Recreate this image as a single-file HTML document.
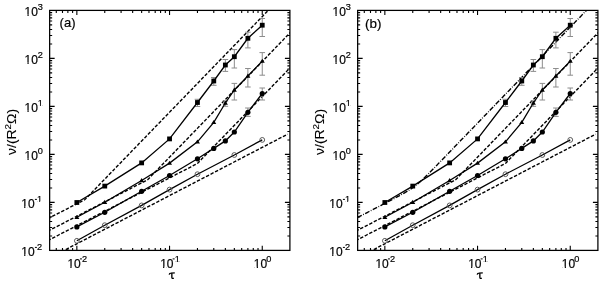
<!DOCTYPE html>
<html><head><meta charset="utf-8"><style>
html,body{margin:0;padding:0;background:#fff;width:600px;height:283px;overflow:hidden}
svg{display:block;will-change:transform;filter:blur(0.3px)}
</style></head><body>
<svg width="600" height="283" viewBox="0 0 600 283">
<rect width="600" height="283" fill="#fff"/>
<clipPath id="clipa"><rect x="49.65" y="10.4" width="240.24999999999997" height="240.0"/></clipPath>
<g clip-path="url(#clipa)" fill="none" stroke="#000" stroke-width="1.4">
<polyline points="47.65,218.81 48.65,218.30 49.65,217.78 50.65,217.27 51.65,216.75 52.65,216.24 53.65,215.72 54.65,215.21 55.65,214.69 56.65,214.18 57.65,213.66 58.65,213.15 59.65,212.63 60.65,212.12 61.65,211.60 62.65,211.09 63.65,210.57 64.65,210.06 65.65,209.54 66.65,209.03 67.65,208.51 68.65,208.00 69.65,207.48 70.65,206.97 71.65,206.45 72.65,205.94 73.65,205.42 74.65,204.91 75.65,204.39 76.65,203.88 77.65,203.36 78.65,202.85 79.65,202.33 80.65,201.82 81.65,201.30 82.65,200.79 83.65,200.27 84.65,199.76 85.65,198.81 86.65,197.78 87.65,196.75 88.65,195.71 89.65,194.68 90.65,193.65 91.65,192.62 92.65,191.59 93.65,190.55 94.65,189.52 95.65,188.49 96.65,187.46 97.65,186.43 98.65,185.39 99.65,184.36 100.65,183.33 101.65,182.30 102.65,181.27 103.65,180.23 104.65,179.20 105.65,178.17 106.65,177.14 107.65,176.11 108.65,175.07 109.65,174.04 110.65,173.01 111.65,171.98 112.65,170.95 113.65,169.91 114.65,168.88 115.65,167.85 116.65,166.82 117.65,165.79 118.65,164.75 119.65,163.72 120.65,162.69 121.65,161.66 122.65,160.63 123.65,159.59 124.65,158.56 125.65,157.53 126.65,156.50 127.65,155.47 128.65,154.43 129.65,153.40 130.65,152.37 131.65,151.34 132.65,150.31 133.65,149.27 134.65,148.24 135.65,147.21 136.65,146.18 137.65,145.15 138.65,144.11 139.65,143.08 140.65,142.05 141.65,141.02 142.65,139.99 143.65,138.95 144.65,137.92 145.65,136.89 146.65,135.86 147.65,134.83 148.65,133.79 149.65,132.76 150.65,131.73 151.65,130.70 152.65,129.67 153.65,128.63 154.65,127.60 155.65,126.57 156.65,125.54 157.65,124.51 158.65,123.47 159.65,122.44 160.65,121.41 161.65,120.38 162.65,119.35 163.65,118.31 164.65,117.28 165.65,116.25 166.65,115.22 167.65,114.19 168.65,113.15 169.65,112.12 170.65,111.09 171.65,110.06 172.65,109.03 173.65,107.99 174.65,106.96 175.65,105.93 176.65,104.90 177.65,103.87 178.65,102.83 179.65,101.80 180.65,100.77 181.65,99.74 182.65,98.71 183.65,97.67 184.65,96.64 185.65,95.61 186.65,94.58 187.65,93.55 188.65,92.51 189.65,91.48 190.65,90.45 191.65,89.42 192.65,88.39 193.65,87.35 194.65,86.32 195.65,85.29 196.65,84.26 197.65,83.23 198.65,82.19 199.65,81.16 200.65,80.13 201.65,79.10 202.65,78.07 203.65,77.03 204.65,76.00 205.65,74.97 206.65,73.94 207.65,72.91 208.65,71.87 209.65,70.84 210.65,69.81 211.65,68.78 212.65,67.75 213.65,66.71 214.65,65.68 215.65,64.65 216.65,63.62 217.65,62.59 218.65,61.55 219.65,60.52 220.65,59.49 221.65,58.46 222.65,57.43 223.65,56.39 224.65,55.36 225.65,54.33 226.65,53.30 227.65,52.27 228.65,51.23 229.65,50.20 230.65,49.17 231.65,48.14 232.65,47.11 233.65,46.07 234.65,45.04 235.65,44.01 236.65,42.98 237.65,41.95 238.65,40.91 239.65,39.88 240.65,38.85 241.65,37.82 242.65,36.79 243.65,35.75 244.65,34.72 245.65,33.69 246.65,32.66 247.65,31.63 248.65,30.59 249.65,29.56 250.65,28.53 251.65,27.50 252.65,26.47 253.65,25.43 254.65,24.40 255.65,23.37 256.65,22.34 257.65,21.31 258.65,20.27 259.65,19.24 260.65,18.21 261.65,17.18 262.65,16.15 263.65,15.11 264.65,14.08 265.65,13.05 266.65,12.02 267.65,10.99 268.65,9.95 269.65,8.92 270.65,7.89 271.65,6.86 272.65,5.83 273.65,4.79 274.65,3.76 275.65,2.73 276.65,1.70 277.65,0.67 278.65,-0.37 279.65,-1.40 280.65,-2.43 281.65,-3.46 282.65,-4.49 283.65,-5.53 284.65,-6.56 285.65,-7.59 286.65,-8.62 287.65,-9.65 288.65,-10.69 289.65,-11.72 290.65,-12.75 291.65,-13.78" stroke-dasharray="3.4 1.7"/>
<polyline points="47.65,231.26 48.65,230.75 49.65,230.23 50.65,229.72 51.65,229.20 52.65,228.69 53.65,228.17 54.65,227.66 55.65,227.14 56.65,226.63 57.65,226.11 58.65,225.60 59.65,225.08 60.65,224.57 61.65,224.05 62.65,223.54 63.65,223.02 64.65,222.51 65.65,221.99 66.65,221.48 67.65,220.96 68.65,220.45 69.65,219.93 70.65,219.42 71.65,218.90 72.65,218.39 73.65,217.87 74.65,217.36 75.65,216.84 76.65,216.33 77.65,215.81 78.65,215.30 79.65,214.78 80.65,214.27 81.65,213.75 82.65,213.24 83.65,212.72 84.65,212.21 85.65,211.69 86.65,211.18 87.65,210.66 88.65,210.15 89.65,209.63 90.65,209.12 91.65,208.60 92.65,208.09 93.65,207.57 94.65,207.06 95.65,206.54 96.65,206.03 97.65,205.51 98.65,205.00 99.65,204.48 100.65,203.97 101.65,203.45 102.65,202.94 103.65,202.42 104.65,201.91 105.65,201.39 106.65,200.88 107.65,200.36 108.65,199.85 109.65,199.33 110.65,198.82 111.65,198.30 112.65,197.79 113.65,197.27 114.65,196.76 115.65,196.24 116.65,195.73 117.65,195.21 118.65,194.70 119.65,194.18 120.65,193.67 121.65,193.15 122.65,192.64 123.65,192.12 124.65,191.61 125.65,191.09 126.65,190.58 127.65,190.06 128.65,189.55 129.65,189.03 130.65,188.52 131.65,188.00 132.65,187.49 133.65,186.97 134.65,186.46 135.65,185.94 136.65,185.43 137.65,184.91 138.65,184.40 139.65,183.88 140.65,183.37 141.65,182.85 142.65,182.34 143.65,181.82 144.65,181.31 145.65,180.79 146.65,180.28 147.65,179.73 148.65,178.69 149.65,177.66 150.65,176.63 151.65,175.60 152.65,174.57 153.65,173.53 154.65,172.50 155.65,171.47 156.65,170.44 157.65,169.41 158.65,168.37 159.65,167.34 160.65,166.31 161.65,165.28 162.65,164.25 163.65,163.21 164.65,162.18 165.65,161.15 166.65,160.12 167.65,159.09 168.65,158.05 169.65,157.02 170.65,155.99 171.65,154.96 172.65,153.93 173.65,152.89 174.65,151.86 175.65,150.83 176.65,149.80 177.65,148.77 178.65,147.73 179.65,146.70 180.65,145.67 181.65,144.64 182.65,143.61 183.65,142.57 184.65,141.54 185.65,140.51 186.65,139.48 187.65,138.45 188.65,137.41 189.65,136.38 190.65,135.35 191.65,134.32 192.65,133.29 193.65,132.25 194.65,131.22 195.65,130.19 196.65,129.16 197.65,128.13 198.65,127.09 199.65,126.06 200.65,125.03 201.65,124.00 202.65,122.97 203.65,121.93 204.65,120.90 205.65,119.87 206.65,118.84 207.65,117.81 208.65,116.77 209.65,115.74 210.65,114.71 211.65,113.68 212.65,112.65 213.65,111.61 214.65,110.58 215.65,109.55 216.65,108.52 217.65,107.49 218.65,106.45 219.65,105.42 220.65,104.39 221.65,103.36 222.65,102.33 223.65,101.29 224.65,100.26 225.65,99.23 226.65,98.20 227.65,97.17 228.65,96.13 229.65,95.10 230.65,94.07 231.65,93.04 232.65,92.01 233.65,90.97 234.65,89.94 235.65,88.91 236.65,87.88 237.65,86.85 238.65,85.81 239.65,84.78 240.65,83.75 241.65,82.72 242.65,81.69 243.65,80.65 244.65,79.62 245.65,78.59 246.65,77.56 247.65,76.53 248.65,75.49 249.65,74.46 250.65,73.43 251.65,72.40 252.65,71.37 253.65,70.33 254.65,69.30 255.65,68.27 256.65,67.24 257.65,66.21 258.65,65.17 259.65,64.14 260.65,63.11 261.65,62.08 262.65,61.05 263.65,60.01 264.65,58.98 265.65,57.95 266.65,56.92 267.65,55.89 268.65,54.85 269.65,53.82 270.65,52.79 271.65,51.76 272.65,50.73 273.65,49.69 274.65,48.66 275.65,47.63 276.65,46.60 277.65,45.57 278.65,44.53 279.65,43.50 280.65,42.47 281.65,41.44 282.65,40.41 283.65,39.37 284.65,38.34 285.65,37.31 286.65,36.28 287.65,35.25 288.65,34.21 289.65,33.18 290.65,32.15 291.65,31.12" stroke-dasharray="3.4 1.7"/>
<polyline points="47.65,240.66 48.65,240.15 49.65,239.63 50.65,239.12 51.65,238.60 52.65,238.09 53.65,237.57 54.65,237.06 55.65,236.54 56.65,236.03 57.65,235.51 58.65,235.00 59.65,234.48 60.65,233.97 61.65,233.45 62.65,232.94 63.65,232.42 64.65,231.91 65.65,231.39 66.65,230.88 67.65,230.36 68.65,229.85 69.65,229.33 70.65,228.82 71.65,228.30 72.65,227.79 73.65,227.27 74.65,226.76 75.65,226.24 76.65,225.73 77.65,225.21 78.65,224.70 79.65,224.18 80.65,223.67 81.65,223.15 82.65,222.64 83.65,222.12 84.65,221.61 85.65,221.09 86.65,220.58 87.65,220.06 88.65,219.55 89.65,219.03 90.65,218.52 91.65,218.00 92.65,217.49 93.65,216.97 94.65,216.46 95.65,215.94 96.65,215.43 97.65,214.91 98.65,214.40 99.65,213.88 100.65,213.37 101.65,212.85 102.65,212.34 103.65,211.82 104.65,211.31 105.65,210.79 106.65,210.28 107.65,209.76 108.65,209.25 109.65,208.73 110.65,208.22 111.65,207.70 112.65,207.19 113.65,206.67 114.65,206.16 115.65,205.64 116.65,205.13 117.65,204.61 118.65,204.10 119.65,203.58 120.65,203.07 121.65,202.55 122.65,202.04 123.65,201.52 124.65,201.01 125.65,200.49 126.65,199.98 127.65,199.46 128.65,198.95 129.65,198.43 130.65,197.92 131.65,197.40 132.65,196.89 133.65,196.37 134.65,195.86 135.65,195.34 136.65,194.83 137.65,194.31 138.65,193.80 139.65,193.28 140.65,192.77 141.65,192.25 142.65,191.74 143.65,191.22 144.65,190.71 145.65,190.19 146.65,189.68 147.65,189.16 148.65,188.65 149.65,188.13 150.65,187.62 151.65,187.10 152.65,186.59 153.65,186.07 154.65,185.56 155.65,185.04 156.65,184.53 157.65,184.01 158.65,183.50 159.65,182.98 160.65,182.47 161.65,181.95 162.65,181.44 163.65,180.92 164.65,180.41 165.65,179.89 166.65,179.38 167.65,178.86 168.65,178.35 169.65,177.83 170.65,177.32 171.65,176.80 172.65,176.29 173.65,175.77 174.65,175.26 175.65,174.74 176.65,174.23 177.65,173.71 178.65,173.20 179.65,172.68 180.65,172.17 181.65,171.65 182.65,171.14 183.65,170.62 184.65,170.11 185.65,169.59 186.65,169.08 187.65,168.56 188.65,168.05 189.65,167.53 190.65,167.02 191.65,166.50 192.65,165.99 193.65,165.47 194.65,164.96 195.65,164.44 196.65,163.93 197.65,163.23 198.65,162.19 199.65,161.16 200.65,160.13 201.65,159.10 202.65,158.07 203.65,157.03 204.65,156.00 205.65,154.97 206.65,153.94 207.65,152.91 208.65,151.87 209.65,150.84 210.65,149.81 211.65,148.78 212.65,147.75 213.65,146.71 214.65,145.68 215.65,144.65 216.65,143.62 217.65,142.59 218.65,141.55 219.65,140.52 220.65,139.49 221.65,138.46 222.65,137.43 223.65,136.39 224.65,135.36 225.65,134.33 226.65,133.30 227.65,132.27 228.65,131.23 229.65,130.20 230.65,129.17 231.65,128.14 232.65,127.11 233.65,126.07 234.65,125.04 235.65,124.01 236.65,122.98 237.65,121.95 238.65,120.91 239.65,119.88 240.65,118.85 241.65,117.82 242.65,116.79 243.65,115.75 244.65,114.72 245.65,113.69 246.65,112.66 247.65,111.63 248.65,110.59 249.65,109.56 250.65,108.53 251.65,107.50 252.65,106.47 253.65,105.43 254.65,104.40 255.65,103.37 256.65,102.34 257.65,101.31 258.65,100.27 259.65,99.24 260.65,98.21 261.65,97.18 262.65,96.15 263.65,95.11 264.65,94.08 265.65,93.05 266.65,92.02 267.65,90.99 268.65,89.95 269.65,88.92 270.65,87.89 271.65,86.86 272.65,85.83 273.65,84.79 274.65,83.76 275.65,82.73 276.65,81.70 277.65,80.67 278.65,79.63 279.65,78.60 280.65,77.57 281.65,76.54 282.65,75.51 283.65,74.47 284.65,73.44 285.65,72.41 286.65,71.38 287.65,70.35 288.65,69.31 289.65,68.28 290.65,67.25 291.65,66.22" stroke-dasharray="3.4 1.7"/>
<polyline points="47.65,258.97 52.65,256.37 57.65,253.77 62.65,251.17 67.65,248.57 72.65,245.97 77.65,243.37 82.65,240.77 87.65,238.17 92.65,235.57 97.65,232.97 102.65,230.37 107.65,227.77 112.65,225.17 117.65,222.57 122.65,219.97 127.65,217.37 132.65,214.77 137.65,212.17 142.65,209.57 147.65,206.97 152.65,204.37 157.65,201.77 162.65,199.17 167.65,196.57 172.65,193.97 177.65,191.37 182.65,188.77 187.65,186.17 192.65,183.57 197.65,180.97 202.65,178.37 207.65,175.77 212.65,173.17 217.65,170.57 222.65,167.97 227.65,165.37 232.65,162.77 237.65,160.17 242.65,157.57 247.65,154.97 252.65,152.37 257.65,149.77 262.65,147.17 267.65,144.57 272.65,141.97 277.65,139.37 282.65,136.77 287.65,134.17" stroke-dasharray="3.4 1.7"/>
</g>
<g stroke="#8c8c8c" stroke-width="1" fill="none">
<path d="M197.46,99.30V106.50M194.66,99.30H200.26M194.66,106.50H200.26"/>
<path d="M213.78,77.50V85.30M210.98,77.50H216.58M210.98,85.30H216.58"/>
<path d="M225.36,59.50V71.40M222.56,59.50H228.16M222.56,71.40H228.16"/>
<path d="M234.34,49.60V68.00M231.54,49.60H237.14M231.54,68.00H237.14"/>
<path d="M247.89,32.20V47.90M245.09,32.20H250.69M245.09,47.90H250.69"/>
<path d="M262.25,18.50V36.50M259.45,18.50H265.05M259.45,36.50H265.05"/>
<path d="M225.36,101.00V106.30M222.56,101.00H228.16M222.56,106.30H228.16"/>
<path d="M234.34,83.40V100.00M231.54,83.40H237.14M231.54,100.00H237.14"/>
<path d="M247.89,68.50V87.00M245.09,68.50H250.69M245.09,87.00H250.69"/>
<path d="M262.25,52.60V75.20M259.45,52.60H265.05M259.45,75.20H265.05"/>
<path d="M247.89,108.00V116.40M245.09,108.00H250.69M245.09,116.40H250.69"/>
<path d="M262.25,88.00V100.00M259.45,88.00H265.05M259.45,100.00H265.05"/>
</g>
<g fill="none" stroke="#000" stroke-width="1.3">
<polyline points="76.85,202.50 104.76,186.10 141.64,162.90 169.55,138.90 197.46,102.50 213.78,81.00 225.36,65.00 234.34,56.70 247.89,38.30 262.25,25.20"/>
<polyline points="76.85,217.30 104.76,202.20 141.64,180.50 169.55,163.10 197.46,141.80 213.78,122.40 225.36,103.00 234.34,90.00 247.89,76.00 262.25,61.10"/>
<polyline points="76.85,226.90 104.76,212.30 141.64,191.30 169.55,175.50 197.46,158.80 213.78,148.40 225.36,140.90 234.34,132.00 247.89,112.30 262.25,93.50"/>
<polyline points="76.85,240.80 104.76,225.20 141.64,205.40 169.55,189.60 197.46,174.20 234.34,155.00 262.25,139.90"/>
</g>
<g fill="#000">
<rect x="74.45" y="200.10" width="4.8" height="4.8"/>
<rect x="102.36" y="183.70" width="4.8" height="4.8"/>
<rect x="139.24" y="160.50" width="4.8" height="4.8"/>
<rect x="167.15" y="136.50" width="4.8" height="4.8"/>
<rect x="195.06" y="100.10" width="4.8" height="4.8"/>
<rect x="211.38" y="78.60" width="4.8" height="4.8"/>
<rect x="222.96" y="62.60" width="4.8" height="4.8"/>
<rect x="231.94" y="54.30" width="4.8" height="4.8"/>
<rect x="245.49" y="35.90" width="4.8" height="4.8"/>
<rect x="259.85" y="22.80" width="4.8" height="4.8"/>
<path d="M74.35,219.00L79.35,219.00L76.85,214.90Z"/>
<path d="M102.26,203.90L107.26,203.90L104.76,199.80Z"/>
<path d="M139.14,182.20L144.14,182.20L141.64,178.10Z"/>
<path d="M167.05,164.80L172.05,164.80L169.55,160.70Z"/>
<path d="M194.96,143.50L199.96,143.50L197.46,139.40Z"/>
<path d="M211.28,124.10L216.28,124.10L213.78,120.00Z"/>
<path d="M222.86,104.70L227.86,104.70L225.36,100.60Z"/>
<path d="M231.84,91.70L236.84,91.70L234.34,87.60Z"/>
<path d="M245.39,77.70L250.39,77.70L247.89,73.60Z"/>
<path d="M259.75,62.80L264.75,62.80L262.25,58.70Z"/>
<circle cx="76.85" cy="226.90" r="2.6"/>
<circle cx="104.76" cy="212.30" r="2.6"/>
<circle cx="141.64" cy="191.30" r="2.6"/>
<circle cx="169.55" cy="175.50" r="2.6"/>
<circle cx="197.46" cy="158.80" r="2.6"/>
<circle cx="213.78" cy="148.40" r="2.6"/>
<circle cx="225.36" cy="140.90" r="2.6"/>
<circle cx="234.34" cy="132.00" r="2.6"/>
<circle cx="247.89" cy="112.30" r="2.6"/>
<circle cx="262.25" cy="93.50" r="2.6"/>
</g>
<g fill="none" stroke="#4a4a4a" stroke-width="0.9">
<circle cx="76.85" cy="240.80" r="2.4"/>
<circle cx="104.76" cy="225.20" r="2.4"/>
<circle cx="141.64" cy="205.40" r="2.4"/>
<circle cx="169.55" cy="189.60" r="2.4"/>
<circle cx="197.46" cy="174.20" r="2.4"/>
<circle cx="234.34" cy="155.00" r="2.4"/>
<circle cx="262.25" cy="139.90" r="2.4"/>
</g>
<g stroke="#000" stroke-width="1.1" fill="none">
<path d="M56.28,250.40v-2.5M56.28,10.40v2.5M62.49,250.40v-2.5M62.49,10.40v2.5M67.87,250.40v-2.5M67.87,10.40v2.5M72.61,250.40v-2.5M72.61,10.40v2.5M76.85,250.40v-4.6M76.85,10.40v4.6M104.76,250.40v-2.5M104.76,10.40v2.5M121.08,250.40v-2.5M121.08,10.40v2.5M132.66,250.40v-2.5M132.66,10.40v2.5M141.64,250.40v-2.5M141.64,10.40v2.5M148.98,250.40v-2.5M148.98,10.40v2.5M155.19,250.40v-2.5M155.19,10.40v2.5M160.57,250.40v-2.5M160.57,10.40v2.5M165.31,250.40v-2.5M165.31,10.40v2.5M169.55,250.40v-4.6M169.55,10.40v4.6M197.46,250.40v-2.5M197.46,10.40v2.5M213.78,250.40v-2.5M213.78,10.40v2.5M225.36,250.40v-2.5M225.36,10.40v2.5M234.34,250.40v-2.5M234.34,10.40v2.5M241.68,250.40v-2.5M241.68,10.40v2.5M247.89,250.40v-2.5M247.89,10.40v2.5M253.27,250.40v-2.5M253.27,10.40v2.5M258.01,250.40v-2.5M258.01,10.40v2.5M262.25,250.40v-4.6M262.25,10.40v4.6M49.65,235.95h2.5M289.90,235.95h-2.5M49.65,227.50h2.5M289.90,227.50h-2.5M49.65,221.50h2.5M289.90,221.50h-2.5M49.65,216.85h2.5M289.90,216.85h-2.5M49.65,213.05h2.5M289.90,213.05h-2.5M49.65,209.84h2.5M289.90,209.84h-2.5M49.65,207.05h2.5M289.90,207.05h-2.5M49.65,204.60h2.5M289.90,204.60h-2.5M49.65,202.40h5.0M289.90,202.40h-5.0M49.65,187.95h2.5M289.90,187.95h-2.5M49.65,179.50h2.5M289.90,179.50h-2.5M49.65,173.50h2.5M289.90,173.50h-2.5M49.65,168.85h2.5M289.90,168.85h-2.5M49.65,165.05h2.5M289.90,165.05h-2.5M49.65,161.84h2.5M289.90,161.84h-2.5M49.65,159.05h2.5M289.90,159.05h-2.5M49.65,156.60h2.5M289.90,156.60h-2.5M49.65,154.40h5.0M289.90,154.40h-5.0M49.65,139.95h2.5M289.90,139.95h-2.5M49.65,131.50h2.5M289.90,131.50h-2.5M49.65,125.50h2.5M289.90,125.50h-2.5M49.65,120.85h2.5M289.90,120.85h-2.5M49.65,117.05h2.5M289.90,117.05h-2.5M49.65,113.84h2.5M289.90,113.84h-2.5M49.65,111.05h2.5M289.90,111.05h-2.5M49.65,108.60h2.5M289.90,108.60h-2.5M49.65,106.40h5.0M289.90,106.40h-5.0M49.65,91.95h2.5M289.90,91.95h-2.5M49.65,83.50h2.5M289.90,83.50h-2.5M49.65,77.50h2.5M289.90,77.50h-2.5M49.65,72.85h2.5M289.90,72.85h-2.5M49.65,69.05h2.5M289.90,69.05h-2.5M49.65,65.84h2.5M289.90,65.84h-2.5M49.65,63.05h2.5M289.90,63.05h-2.5M49.65,60.60h2.5M289.90,60.60h-2.5M49.65,58.40h5.0M289.90,58.40h-5.0M49.65,43.95h2.5M289.90,43.95h-2.5M49.65,35.50h2.5M289.90,35.50h-2.5M49.65,29.50h2.5M289.90,29.50h-2.5M49.65,24.85h2.5M289.90,24.85h-2.5M49.65,21.05h2.5M289.90,21.05h-2.5M49.65,17.84h2.5M289.90,17.84h-2.5M49.65,15.05h2.5M289.90,15.05h-2.5M49.65,12.60h2.5M289.90,12.60h-2.5"/>
</g>
<rect x="49.65" y="10.4" width="240.24999999999997" height="240.0" fill="none" stroke="#000" stroke-width="1.25"/>
<g font-family="'Liberation Sans', sans-serif" fill="#000" stroke="#000" stroke-width="0.2">
<text x="24.56" y="15.60" font-size="12">10</text>
<path d="M25.04,14.58H27.48V16.90H25.04ZM28.66,14.58H31.10V16.90H28.66Z" fill="#fff" stroke="none"/>
<text x="37.70" y="9.50" font-size="9.2">3</text>
<text x="24.56" y="63.60" font-size="12">10</text>
<path d="M25.04,62.58H27.48V64.90H25.04ZM28.66,62.58H31.10V64.90H28.66Z" fill="#fff" stroke="none"/>
<text x="37.70" y="57.50" font-size="9.2">2</text>
<text x="24.56" y="111.60" font-size="12">10</text>
<path d="M25.04,110.58H27.48V112.90H25.04ZM28.66,110.58H31.10V112.90H28.66Z" fill="#fff" stroke="none"/>
<text x="37.70" y="105.50" font-size="9.2">1</text>
<path d="M38.07,104.72H39.94V106.80H38.07ZM40.85,104.72H42.71V106.80H40.85Z" fill="#fff" stroke="none"/>
<text x="24.56" y="159.60" font-size="12">10</text>
<path d="M25.04,158.58H27.48V160.90H25.04ZM28.66,158.58H31.10V160.90H28.66Z" fill="#fff" stroke="none"/>
<text x="37.70" y="153.50" font-size="9.2">0</text>
<text x="21.26" y="207.60" font-size="12">10</text>
<path d="M21.74,206.58H24.18V208.90H21.74ZM25.36,206.58H27.80V208.90H25.36Z" fill="#fff" stroke="none"/>
<rect x="34.90" y="198.90" width="2.0" height="1.0" stroke="none"/>
<text x="37.00" y="201.90" font-size="9.2">1</text>
<path d="M37.37,201.12H39.24V203.20H37.37ZM40.15,201.12H42.01V203.20H40.15Z" fill="#fff" stroke="none"/>
<text x="21.26" y="255.60" font-size="12">10</text>
<path d="M21.74,254.58H24.18V256.90H21.74ZM25.36,254.58H27.80V256.90H25.36Z" fill="#fff" stroke="none"/>
<rect x="34.90" y="246.90" width="2.0" height="1.0" stroke="none"/>
<text x="37.00" y="249.90" font-size="9.2">2</text>
<text x="67.45" y="267.70" font-size="12">10</text>
<path d="M67.93,266.68H70.37V269.00H67.93ZM71.55,266.68H73.99V269.00H71.55Z" fill="#fff" stroke="none"/>
<rect x="79.95" y="258.40" width="2.0" height="1.0" stroke="none"/>
<text x="82.05" y="262.00" font-size="9.2">2</text>
<text x="160.15" y="267.70" font-size="12">10</text>
<path d="M160.63,266.68H163.07V269.00H160.63ZM164.25,266.68H166.69V269.00H164.25Z" fill="#fff" stroke="none"/>
<rect x="172.65" y="258.40" width="2.0" height="1.0" stroke="none"/>
<text x="174.75" y="262.00" font-size="9.2">1</text>
<path d="M175.12,261.22H176.99V263.30H175.12ZM177.90,261.22H179.76V263.30H177.90Z" fill="#fff" stroke="none"/>
<text x="253.85" y="267.70" font-size="12">10</text>
<path d="M254.33,266.68H256.77V269.00H254.33ZM257.95,266.68H260.39V269.00H257.95Z" fill="#fff" stroke="none"/>
<text x="266.25" y="261.60" font-size="9.2">0</text>
<path transform="translate(0.00,0)" d="M169.2,274.7 C169.4,273.5 170,273.1 171,273.1 L174.8,272.8 M171.85,273.1 L171.85,277.2 C171.85,278.4 172.4,278.7 173.8,278.2" fill="none" stroke="#000" stroke-width="1.35"/>
<text transform="translate(15.70,131.9) rotate(-90) scale(1.09,1)" font-size="12.8" text-anchor="middle" stroke-width="0.1">ν/(R<tspan dy="-4.6" font-size="9">2</tspan><tspan dy="4.6">Ω)</tspan></text>
<text x="59.60" y="27" font-size="13">(a)</text>
</g>
<clipPath id="clipb"><rect x="357.65" y="10.4" width="240.24999999999997" height="240.0"/></clipPath>
<g clip-path="url(#clipb)" fill="none" stroke="#000" stroke-width="1.4">
<polyline points="355.65,218.48 356.65,217.96 357.65,217.44 358.65,216.92 359.65,216.41 360.65,215.89 361.65,215.37 362.65,214.85 363.65,214.33 364.65,213.82 365.65,213.30 366.65,212.78 367.65,212.26 368.65,211.75 369.65,211.23 370.65,210.71 371.65,210.19 372.65,209.67 373.65,209.16 374.65,208.64 375.65,208.12 376.65,207.60 377.65,207.08 378.65,206.57 379.65,206.05 380.65,205.53 381.65,205.01 382.65,204.49 383.65,203.97 384.65,203.45 385.65,202.94 386.65,202.42 387.65,201.90 388.65,201.38 389.65,200.86 390.65,200.33 391.65,199.81 392.65,199.29 393.65,198.76 394.65,198.24 395.65,197.71 396.65,197.18 397.65,196.65 398.65,196.12 399.65,195.58 400.65,195.03 401.65,194.49 402.65,193.93 403.65,193.37 404.65,192.80 405.65,192.22 406.65,191.63 407.65,191.03 408.65,190.41 409.65,189.77 410.65,189.11 411.65,188.44 412.65,187.74 413.65,187.01 414.65,186.26 415.65,185.49 416.65,184.69 417.65,183.86 418.65,183.01 419.65,182.14 420.65,181.24 421.65,180.33 422.65,179.40 423.65,178.45 424.65,177.49 425.65,176.52 426.65,175.54 427.65,174.55 428.65,173.55 429.65,172.55 430.65,171.54 431.65,170.52 432.65,169.51 433.65,168.49 434.65,167.46 435.65,166.44 436.65,165.41 437.65,164.38 438.65,163.35 439.65,162.32 440.65,161.29 441.65,160.26 442.65,159.23 443.65,158.19 444.65,157.16 445.65,156.13 446.65,155.09 447.65,154.06 448.65,153.02 449.65,151.99 450.65,150.95 451.65,149.92 452.65,148.89 453.65,147.85 454.65,146.82 455.65,145.78 456.65,144.75 457.65,143.71 458.65,142.68 459.65,141.64 460.65,140.61 461.65,139.57 462.65,138.54 463.65,137.50 464.65,136.47 465.65,135.43 466.65,134.40 467.65,133.36 468.65,132.33 469.65,131.29 470.65,130.26 471.65,129.22 472.65,128.19 473.65,127.15 474.65,126.12 475.65,125.08 476.65,124.05 477.65,123.01 478.65,121.98 479.65,120.94 480.65,119.91 481.65,118.87 482.65,117.84 483.65,116.80 484.65,115.77 485.65,114.73 486.65,113.70 487.65,112.66 488.65,111.63 489.65,110.59 490.65,109.56 491.65,108.52 492.65,107.49 493.65,106.45 494.65,105.42 495.65,104.38 496.65,103.35 497.65,102.31 498.65,101.28 499.65,100.24 500.65,99.21 501.65,98.17 502.65,97.14 503.65,96.10 504.65,95.07 505.65,94.03 506.65,93.00 507.65,91.96 508.65,90.93 509.65,89.89 510.65,88.86 511.65,87.82 512.65,86.79 513.65,85.75 514.65,84.72 515.65,83.68 516.65,82.65 517.65,81.61 518.65,80.58 519.65,79.54 520.65,78.51 521.65,77.47 522.65,76.44 523.65,75.40 524.65,74.37 525.65,73.33 526.65,72.30 527.65,71.26 528.65,70.23 529.65,69.19 530.65,68.16 531.65,67.12 532.65,66.09 533.65,65.05 534.65,64.02 535.65,62.98 536.65,61.95 537.65,60.91 538.65,59.88 539.65,58.84 540.65,57.81 541.65,56.77 542.65,55.74 543.65,54.70 544.65,53.67 545.65,52.63 546.65,51.60 547.65,50.56 548.65,49.53 549.65,48.49 550.65,47.46 551.65,46.42 552.65,45.39 553.65,44.35 554.65,43.32 555.65,42.28 556.65,41.25 557.65,40.21 558.65,39.18 559.65,38.14 560.65,37.11 561.65,36.07 562.65,35.04 563.65,34.00 564.65,32.97 565.65,31.93 566.65,30.90 567.65,29.86 568.65,28.83 569.65,27.79 570.65,26.76 571.65,25.72 572.65,24.69 573.65,23.65 574.65,22.62 575.65,21.58 576.65,20.55 577.65,19.51 578.65,18.48 579.65,17.44 580.65,16.41 581.65,15.37 582.65,14.34 583.65,13.30 584.65,12.27 585.65,11.23 586.65,10.20 587.65,9.16 588.65,8.13 589.65,7.09 590.65,6.06 591.65,5.02 592.65,3.99 593.65,2.95 594.65,1.92 595.65,0.88 596.65,-0.15 597.65,-1.19 598.65,-2.22 599.65,-3.26" stroke-dasharray="4.8 1.5 0.8 1.5" stroke-dashoffset="6.5"/>
<polyline points="355.65,231.26 356.65,230.75 357.65,230.23 358.65,229.72 359.65,229.20 360.65,228.69 361.65,228.17 362.65,227.66 363.65,227.14 364.65,226.63 365.65,226.11 366.65,225.60 367.65,225.08 368.65,224.57 369.65,224.05 370.65,223.54 371.65,223.02 372.65,222.51 373.65,221.99 374.65,221.48 375.65,220.96 376.65,220.45 377.65,219.93 378.65,219.42 379.65,218.90 380.65,218.39 381.65,217.87 382.65,217.36 383.65,216.84 384.65,216.33 385.65,215.81 386.65,215.30 387.65,214.78 388.65,214.27 389.65,213.75 390.65,213.24 391.65,212.72 392.65,212.21 393.65,211.69 394.65,211.18 395.65,210.66 396.65,210.15 397.65,209.63 398.65,209.12 399.65,208.60 400.65,208.09 401.65,207.57 402.65,207.06 403.65,206.54 404.65,206.03 405.65,205.51 406.65,205.00 407.65,204.48 408.65,203.97 409.65,203.45 410.65,202.94 411.65,202.42 412.65,201.91 413.65,201.39 414.65,200.88 415.65,200.36 416.65,199.85 417.65,199.33 418.65,198.82 419.65,198.30 420.65,197.79 421.65,197.27 422.65,196.76 423.65,196.24 424.65,195.73 425.65,195.21 426.65,194.70 427.65,194.18 428.65,193.67 429.65,193.15 430.65,192.64 431.65,192.12 432.65,191.61 433.65,191.09 434.65,190.58 435.65,190.06 436.65,189.55 437.65,189.03 438.65,188.52 439.65,188.00 440.65,187.49 441.65,186.97 442.65,186.46 443.65,185.94 444.65,185.43 445.65,184.91 446.65,184.40 447.65,183.88 448.65,183.37 449.65,182.85 450.65,182.34 451.65,181.82 452.65,181.31 453.65,180.79 454.65,180.28 455.65,179.73 456.65,178.69 457.65,177.66 458.65,176.63 459.65,175.60 460.65,174.57 461.65,173.53 462.65,172.50 463.65,171.47 464.65,170.44 465.65,169.41 466.65,168.37 467.65,167.34 468.65,166.31 469.65,165.28 470.65,164.25 471.65,163.21 472.65,162.18 473.65,161.15 474.65,160.12 475.65,159.09 476.65,158.05 477.65,157.02 478.65,155.99 479.65,154.96 480.65,153.93 481.65,152.89 482.65,151.86 483.65,150.83 484.65,149.80 485.65,148.77 486.65,147.73 487.65,146.70 488.65,145.67 489.65,144.64 490.65,143.61 491.65,142.57 492.65,141.54 493.65,140.51 494.65,139.48 495.65,138.45 496.65,137.41 497.65,136.38 498.65,135.35 499.65,134.32 500.65,133.29 501.65,132.25 502.65,131.22 503.65,130.19 504.65,129.16 505.65,128.13 506.65,127.09 507.65,126.06 508.65,125.03 509.65,124.00 510.65,122.97 511.65,121.93 512.65,120.90 513.65,119.87 514.65,118.84 515.65,117.81 516.65,116.77 517.65,115.74 518.65,114.71 519.65,113.68 520.65,112.65 521.65,111.61 522.65,110.58 523.65,109.55 524.65,108.52 525.65,107.49 526.65,106.45 527.65,105.42 528.65,104.39 529.65,103.36 530.65,102.33 531.65,101.29 532.65,100.26 533.65,99.23 534.65,98.20 535.65,97.17 536.65,96.13 537.65,95.10 538.65,94.07 539.65,93.04 540.65,92.01 541.65,90.97 542.65,89.94 543.65,88.91 544.65,87.88 545.65,86.85 546.65,85.81 547.65,84.78 548.65,83.75 549.65,82.72 550.65,81.69 551.65,80.65 552.65,79.62 553.65,78.59 554.65,77.56 555.65,76.53 556.65,75.49 557.65,74.46 558.65,73.43 559.65,72.40 560.65,71.37 561.65,70.33 562.65,69.30 563.65,68.27 564.65,67.24 565.65,66.21 566.65,65.17 567.65,64.14 568.65,63.11 569.65,62.08 570.65,61.05 571.65,60.01 572.65,58.98 573.65,57.95 574.65,56.92 575.65,55.89 576.65,54.85 577.65,53.82 578.65,52.79 579.65,51.76 580.65,50.73 581.65,49.69 582.65,48.66 583.65,47.63 584.65,46.60 585.65,45.57 586.65,44.53 587.65,43.50 588.65,42.47 589.65,41.44 590.65,40.41 591.65,39.37 592.65,38.34 593.65,37.31 594.65,36.28 595.65,35.25 596.65,34.21 597.65,33.18 598.65,32.15 599.65,31.12" stroke-dasharray="3.4 1.7"/>
<polyline points="355.65,240.66 356.65,240.15 357.65,239.63 358.65,239.12 359.65,238.60 360.65,238.09 361.65,237.57 362.65,237.06 363.65,236.54 364.65,236.03 365.65,235.51 366.65,235.00 367.65,234.48 368.65,233.97 369.65,233.45 370.65,232.94 371.65,232.42 372.65,231.91 373.65,231.39 374.65,230.88 375.65,230.36 376.65,229.85 377.65,229.33 378.65,228.82 379.65,228.30 380.65,227.79 381.65,227.27 382.65,226.76 383.65,226.24 384.65,225.73 385.65,225.21 386.65,224.70 387.65,224.18 388.65,223.67 389.65,223.15 390.65,222.64 391.65,222.12 392.65,221.61 393.65,221.09 394.65,220.58 395.65,220.06 396.65,219.55 397.65,219.03 398.65,218.52 399.65,218.00 400.65,217.49 401.65,216.97 402.65,216.46 403.65,215.94 404.65,215.43 405.65,214.91 406.65,214.40 407.65,213.88 408.65,213.37 409.65,212.85 410.65,212.34 411.65,211.82 412.65,211.31 413.65,210.79 414.65,210.28 415.65,209.76 416.65,209.25 417.65,208.73 418.65,208.22 419.65,207.70 420.65,207.19 421.65,206.67 422.65,206.16 423.65,205.64 424.65,205.13 425.65,204.61 426.65,204.10 427.65,203.58 428.65,203.07 429.65,202.55 430.65,202.04 431.65,201.52 432.65,201.01 433.65,200.49 434.65,199.98 435.65,199.46 436.65,198.95 437.65,198.43 438.65,197.92 439.65,197.40 440.65,196.89 441.65,196.37 442.65,195.86 443.65,195.34 444.65,194.83 445.65,194.31 446.65,193.80 447.65,193.28 448.65,192.77 449.65,192.25 450.65,191.74 451.65,191.22 452.65,190.71 453.65,190.19 454.65,189.68 455.65,189.16 456.65,188.65 457.65,188.13 458.65,187.62 459.65,187.10 460.65,186.59 461.65,186.07 462.65,185.56 463.65,185.04 464.65,184.53 465.65,184.01 466.65,183.50 467.65,182.98 468.65,182.47 469.65,181.95 470.65,181.44 471.65,180.92 472.65,180.41 473.65,179.89 474.65,179.38 475.65,178.86 476.65,178.35 477.65,177.83 478.65,177.32 479.65,176.80 480.65,176.29 481.65,175.77 482.65,175.26 483.65,174.74 484.65,174.23 485.65,173.71 486.65,173.20 487.65,172.68 488.65,172.17 489.65,171.65 490.65,171.14 491.65,170.62 492.65,170.11 493.65,169.59 494.65,169.08 495.65,168.56 496.65,168.05 497.65,167.53 498.65,167.02 499.65,166.50 500.65,165.99 501.65,165.47 502.65,164.96 503.65,164.44 504.65,163.93 505.65,163.23 506.65,162.19 507.65,161.16 508.65,160.13 509.65,159.10 510.65,158.07 511.65,157.03 512.65,156.00 513.65,154.97 514.65,153.94 515.65,152.91 516.65,151.87 517.65,150.84 518.65,149.81 519.65,148.78 520.65,147.75 521.65,146.71 522.65,145.68 523.65,144.65 524.65,143.62 525.65,142.59 526.65,141.55 527.65,140.52 528.65,139.49 529.65,138.46 530.65,137.43 531.65,136.39 532.65,135.36 533.65,134.33 534.65,133.30 535.65,132.27 536.65,131.23 537.65,130.20 538.65,129.17 539.65,128.14 540.65,127.11 541.65,126.07 542.65,125.04 543.65,124.01 544.65,122.98 545.65,121.95 546.65,120.91 547.65,119.88 548.65,118.85 549.65,117.82 550.65,116.79 551.65,115.75 552.65,114.72 553.65,113.69 554.65,112.66 555.65,111.63 556.65,110.59 557.65,109.56 558.65,108.53 559.65,107.50 560.65,106.47 561.65,105.43 562.65,104.40 563.65,103.37 564.65,102.34 565.65,101.31 566.65,100.27 567.65,99.24 568.65,98.21 569.65,97.18 570.65,96.15 571.65,95.11 572.65,94.08 573.65,93.05 574.65,92.02 575.65,90.99 576.65,89.95 577.65,88.92 578.65,87.89 579.65,86.86 580.65,85.83 581.65,84.79 582.65,83.76 583.65,82.73 584.65,81.70 585.65,80.67 586.65,79.63 587.65,78.60 588.65,77.57 589.65,76.54 590.65,75.51 591.65,74.47 592.65,73.44 593.65,72.41 594.65,71.38 595.65,70.35 596.65,69.31 597.65,68.28 598.65,67.25 599.65,66.22" stroke-dasharray="3.4 1.7"/>
<polyline points="355.65,258.97 360.65,256.37 365.65,253.77 370.65,251.17 375.65,248.57 380.65,245.97 385.65,243.37 390.65,240.77 395.65,238.17 400.65,235.57 405.65,232.97 410.65,230.37 415.65,227.77 420.65,225.17 425.65,222.57 430.65,219.97 435.65,217.37 440.65,214.77 445.65,212.17 450.65,209.57 455.65,206.97 460.65,204.37 465.65,201.77 470.65,199.17 475.65,196.57 480.65,193.97 485.65,191.37 490.65,188.77 495.65,186.17 500.65,183.57 505.65,180.97 510.65,178.37 515.65,175.77 520.65,173.17 525.65,170.57 530.65,167.97 535.65,165.37 540.65,162.77 545.65,160.17 550.65,157.57 555.65,154.97 560.65,152.37 565.65,149.77 570.65,147.17 575.65,144.57 580.65,141.97 585.65,139.37 590.65,136.77 595.65,134.17" stroke-dasharray="3.4 1.7"/>
</g>
<g stroke="#8c8c8c" stroke-width="1" fill="none">
<path d="M505.46,99.30V106.50M502.66,99.30H508.26M502.66,106.50H508.26"/>
<path d="M521.78,77.50V85.30M518.98,77.50H524.58M518.98,85.30H524.58"/>
<path d="M533.36,59.50V71.40M530.56,59.50H536.16M530.56,71.40H536.16"/>
<path d="M542.34,49.60V68.00M539.54,49.60H545.14M539.54,68.00H545.14"/>
<path d="M555.89,32.20V47.90M553.09,32.20H558.69M553.09,47.90H558.69"/>
<path d="M570.25,18.50V36.50M567.45,18.50H573.05M567.45,36.50H573.05"/>
<path d="M533.36,101.00V106.30M530.56,101.00H536.16M530.56,106.30H536.16"/>
<path d="M542.34,83.40V100.00M539.54,83.40H545.14M539.54,100.00H545.14"/>
<path d="M555.89,68.50V87.00M553.09,68.50H558.69M553.09,87.00H558.69"/>
<path d="M570.25,52.60V75.20M567.45,52.60H573.05M567.45,75.20H573.05"/>
<path d="M555.89,108.00V116.40M553.09,108.00H558.69M553.09,116.40H558.69"/>
<path d="M570.25,88.00V100.00M567.45,88.00H573.05M567.45,100.00H573.05"/>
</g>
<g fill="none" stroke="#000" stroke-width="1.3">
<polyline points="384.85,202.50 412.76,186.10 449.64,162.90 477.55,138.90 505.46,102.50 521.78,81.00 533.36,65.00 542.34,56.70 555.89,38.30 570.25,25.20"/>
<polyline points="384.85,217.30 412.76,202.20 449.64,180.50 477.55,163.10 505.46,141.80 521.78,122.40 533.36,103.00 542.34,90.00 555.89,76.00 570.25,61.10"/>
<polyline points="384.85,226.90 412.76,212.30 449.64,191.30 477.55,175.50 505.46,158.80 521.78,148.40 533.36,140.90 542.34,132.00 555.89,112.30 570.25,93.50"/>
<polyline points="384.85,240.80 412.76,225.20 449.64,205.40 477.55,189.60 505.46,174.20 542.34,155.00 570.25,139.90"/>
</g>
<g fill="#000">
<rect x="382.45" y="200.10" width="4.8" height="4.8"/>
<rect x="410.36" y="183.70" width="4.8" height="4.8"/>
<rect x="447.24" y="160.50" width="4.8" height="4.8"/>
<rect x="475.15" y="136.50" width="4.8" height="4.8"/>
<rect x="503.06" y="100.10" width="4.8" height="4.8"/>
<rect x="519.38" y="78.60" width="4.8" height="4.8"/>
<rect x="530.96" y="62.60" width="4.8" height="4.8"/>
<rect x="539.94" y="54.30" width="4.8" height="4.8"/>
<rect x="553.49" y="35.90" width="4.8" height="4.8"/>
<rect x="567.85" y="22.80" width="4.8" height="4.8"/>
<path d="M382.35,219.00L387.35,219.00L384.85,214.90Z"/>
<path d="M410.26,203.90L415.26,203.90L412.76,199.80Z"/>
<path d="M447.14,182.20L452.14,182.20L449.64,178.10Z"/>
<path d="M475.05,164.80L480.05,164.80L477.55,160.70Z"/>
<path d="M502.96,143.50L507.96,143.50L505.46,139.40Z"/>
<path d="M519.28,124.10L524.28,124.10L521.78,120.00Z"/>
<path d="M530.86,104.70L535.86,104.70L533.36,100.60Z"/>
<path d="M539.84,91.70L544.84,91.70L542.34,87.60Z"/>
<path d="M553.39,77.70L558.39,77.70L555.89,73.60Z"/>
<path d="M567.75,62.80L572.75,62.80L570.25,58.70Z"/>
<circle cx="384.85" cy="226.90" r="2.6"/>
<circle cx="412.76" cy="212.30" r="2.6"/>
<circle cx="449.64" cy="191.30" r="2.6"/>
<circle cx="477.55" cy="175.50" r="2.6"/>
<circle cx="505.46" cy="158.80" r="2.6"/>
<circle cx="521.78" cy="148.40" r="2.6"/>
<circle cx="533.36" cy="140.90" r="2.6"/>
<circle cx="542.34" cy="132.00" r="2.6"/>
<circle cx="555.89" cy="112.30" r="2.6"/>
<circle cx="570.25" cy="93.50" r="2.6"/>
</g>
<g fill="none" stroke="#4a4a4a" stroke-width="0.9">
<circle cx="384.85" cy="240.80" r="2.4"/>
<circle cx="412.76" cy="225.20" r="2.4"/>
<circle cx="449.64" cy="205.40" r="2.4"/>
<circle cx="477.55" cy="189.60" r="2.4"/>
<circle cx="505.46" cy="174.20" r="2.4"/>
<circle cx="542.34" cy="155.00" r="2.4"/>
<circle cx="570.25" cy="139.90" r="2.4"/>
</g>
<g stroke="#000" stroke-width="1.1" fill="none">
<path d="M364.28,250.40v-2.5M364.28,10.40v2.5M370.49,250.40v-2.5M370.49,10.40v2.5M375.87,250.40v-2.5M375.87,10.40v2.5M380.61,250.40v-2.5M380.61,10.40v2.5M384.85,250.40v-4.6M384.85,10.40v4.6M412.76,250.40v-2.5M412.76,10.40v2.5M429.08,250.40v-2.5M429.08,10.40v2.5M440.66,250.40v-2.5M440.66,10.40v2.5M449.64,250.40v-2.5M449.64,10.40v2.5M456.98,250.40v-2.5M456.98,10.40v2.5M463.19,250.40v-2.5M463.19,10.40v2.5M468.57,250.40v-2.5M468.57,10.40v2.5M473.31,250.40v-2.5M473.31,10.40v2.5M477.55,250.40v-4.6M477.55,10.40v4.6M505.46,250.40v-2.5M505.46,10.40v2.5M521.78,250.40v-2.5M521.78,10.40v2.5M533.36,250.40v-2.5M533.36,10.40v2.5M542.34,250.40v-2.5M542.34,10.40v2.5M549.68,250.40v-2.5M549.68,10.40v2.5M555.89,250.40v-2.5M555.89,10.40v2.5M561.27,250.40v-2.5M561.27,10.40v2.5M566.01,250.40v-2.5M566.01,10.40v2.5M570.25,250.40v-4.6M570.25,10.40v4.6M357.65,235.95h2.5M597.90,235.95h-2.5M357.65,227.50h2.5M597.90,227.50h-2.5M357.65,221.50h2.5M597.90,221.50h-2.5M357.65,216.85h2.5M597.90,216.85h-2.5M357.65,213.05h2.5M597.90,213.05h-2.5M357.65,209.84h2.5M597.90,209.84h-2.5M357.65,207.05h2.5M597.90,207.05h-2.5M357.65,204.60h2.5M597.90,204.60h-2.5M357.65,202.40h5.0M597.90,202.40h-5.0M357.65,187.95h2.5M597.90,187.95h-2.5M357.65,179.50h2.5M597.90,179.50h-2.5M357.65,173.50h2.5M597.90,173.50h-2.5M357.65,168.85h2.5M597.90,168.85h-2.5M357.65,165.05h2.5M597.90,165.05h-2.5M357.65,161.84h2.5M597.90,161.84h-2.5M357.65,159.05h2.5M597.90,159.05h-2.5M357.65,156.60h2.5M597.90,156.60h-2.5M357.65,154.40h5.0M597.90,154.40h-5.0M357.65,139.95h2.5M597.90,139.95h-2.5M357.65,131.50h2.5M597.90,131.50h-2.5M357.65,125.50h2.5M597.90,125.50h-2.5M357.65,120.85h2.5M597.90,120.85h-2.5M357.65,117.05h2.5M597.90,117.05h-2.5M357.65,113.84h2.5M597.90,113.84h-2.5M357.65,111.05h2.5M597.90,111.05h-2.5M357.65,108.60h2.5M597.90,108.60h-2.5M357.65,106.40h5.0M597.90,106.40h-5.0M357.65,91.95h2.5M597.90,91.95h-2.5M357.65,83.50h2.5M597.90,83.50h-2.5M357.65,77.50h2.5M597.90,77.50h-2.5M357.65,72.85h2.5M597.90,72.85h-2.5M357.65,69.05h2.5M597.90,69.05h-2.5M357.65,65.84h2.5M597.90,65.84h-2.5M357.65,63.05h2.5M597.90,63.05h-2.5M357.65,60.60h2.5M597.90,60.60h-2.5M357.65,58.40h5.0M597.90,58.40h-5.0M357.65,43.95h2.5M597.90,43.95h-2.5M357.65,35.50h2.5M597.90,35.50h-2.5M357.65,29.50h2.5M597.90,29.50h-2.5M357.65,24.85h2.5M597.90,24.85h-2.5M357.65,21.05h2.5M597.90,21.05h-2.5M357.65,17.84h2.5M597.90,17.84h-2.5M357.65,15.05h2.5M597.90,15.05h-2.5M357.65,12.60h2.5M597.90,12.60h-2.5"/>
</g>
<rect x="357.65" y="10.4" width="240.24999999999997" height="240.0" fill="none" stroke="#000" stroke-width="1.25"/>
<g font-family="'Liberation Sans', sans-serif" fill="#000" stroke="#000" stroke-width="0.2">
<text x="332.56" y="15.60" font-size="12">10</text>
<path d="M333.04,14.58H335.48V16.90H333.04ZM336.66,14.58H339.10V16.90H336.66Z" fill="#fff" stroke="none"/>
<text x="345.70" y="9.50" font-size="9.2">3</text>
<text x="332.56" y="63.60" font-size="12">10</text>
<path d="M333.04,62.58H335.48V64.90H333.04ZM336.66,62.58H339.10V64.90H336.66Z" fill="#fff" stroke="none"/>
<text x="345.70" y="57.50" font-size="9.2">2</text>
<text x="332.56" y="111.60" font-size="12">10</text>
<path d="M333.04,110.58H335.48V112.90H333.04ZM336.66,110.58H339.10V112.90H336.66Z" fill="#fff" stroke="none"/>
<text x="345.70" y="105.50" font-size="9.2">1</text>
<path d="M346.07,104.72H347.94V106.80H346.07ZM348.85,104.72H350.71V106.80H348.85Z" fill="#fff" stroke="none"/>
<text x="332.56" y="159.60" font-size="12">10</text>
<path d="M333.04,158.58H335.48V160.90H333.04ZM336.66,158.58H339.10V160.90H336.66Z" fill="#fff" stroke="none"/>
<text x="345.70" y="153.50" font-size="9.2">0</text>
<text x="329.26" y="207.60" font-size="12">10</text>
<path d="M329.74,206.58H332.18V208.90H329.74ZM333.36,206.58H335.80V208.90H333.36Z" fill="#fff" stroke="none"/>
<rect x="342.90" y="198.90" width="2.0" height="1.0" stroke="none"/>
<text x="345.00" y="201.90" font-size="9.2">1</text>
<path d="M345.37,201.12H347.24V203.20H345.37ZM348.15,201.12H350.01V203.20H348.15Z" fill="#fff" stroke="none"/>
<text x="329.26" y="255.60" font-size="12">10</text>
<path d="M329.74,254.58H332.18V256.90H329.74ZM333.36,254.58H335.80V256.90H333.36Z" fill="#fff" stroke="none"/>
<rect x="342.90" y="246.90" width="2.0" height="1.0" stroke="none"/>
<text x="345.00" y="249.90" font-size="9.2">2</text>
<text x="375.45" y="267.70" font-size="12">10</text>
<path d="M375.93,266.68H378.37V269.00H375.93ZM379.55,266.68H381.99V269.00H379.55Z" fill="#fff" stroke="none"/>
<rect x="387.95" y="258.40" width="2.0" height="1.0" stroke="none"/>
<text x="390.05" y="262.00" font-size="9.2">2</text>
<text x="468.15" y="267.70" font-size="12">10</text>
<path d="M468.63,266.68H471.07V269.00H468.63ZM472.25,266.68H474.69V269.00H472.25Z" fill="#fff" stroke="none"/>
<rect x="480.65" y="258.40" width="2.0" height="1.0" stroke="none"/>
<text x="482.75" y="262.00" font-size="9.2">1</text>
<path d="M483.12,261.22H484.99V263.30H483.12ZM485.90,261.22H487.76V263.30H485.90Z" fill="#fff" stroke="none"/>
<text x="561.85" y="267.70" font-size="12">10</text>
<path d="M562.33,266.68H564.77V269.00H562.33ZM565.95,266.68H568.39V269.00H565.95Z" fill="#fff" stroke="none"/>
<text x="574.25" y="261.60" font-size="9.2">0</text>
<path transform="translate(308.00,0)" d="M169.2,274.7 C169.4,273.5 170,273.1 171,273.1 L174.8,272.8 M171.85,273.1 L171.85,277.2 C171.85,278.4 172.4,278.7 173.8,278.2" fill="none" stroke="#000" stroke-width="1.35"/>
<text transform="translate(323.70,131.9) rotate(-90) scale(1.09,1)" font-size="12.8" text-anchor="middle" stroke-width="0.1">ν/(R<tspan dy="-4.6" font-size="9">2</tspan><tspan dy="4.6">Ω)</tspan></text>
<text x="365.00" y="28.3" font-size="13.4">(b)</text>
</g>
</svg>
</body></html>
